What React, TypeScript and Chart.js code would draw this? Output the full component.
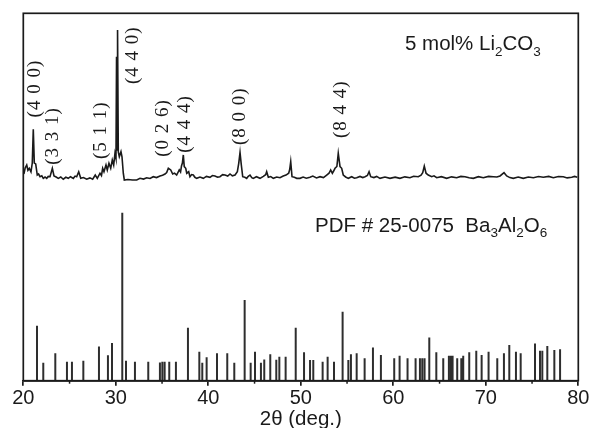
import React, { useEffect, useRef } from 'react';
import { Chart, registerables } from 'chart.js';

Chart.register(...registerables);

// Measured XRD pattern (2θ in degrees, relative intensity, 100 = strongest)
const TWO_THETA = [
  20.0, 20.08, 20.2, 20.37, 20.5, 20.65, 20.83, 20.97, 21.08, 21.19, 21.34, 21.51, 21.65, 21.81, 22.0, 22.16, 22.35, 22.53,
  22.7, 22.89, 23.14, 23.32, 23.55, 23.78, 24.05, 24.32, 24.6, 24.86, 25.1, 25.41, 25.6, 25.77, 25.99, 26.21, 26.5, 26.85,
  27.2, 27.5, 27.78, 28.0, 28.29, 28.45, 28.58, 28.72, 28.94, 29.08, 29.26, 29.45, 29.62, 29.77, 29.91, 30.02, 30.08, 30.13,
  30.19, 30.27, 30.38, 30.56, 30.67, 30.81, 30.92, 31.3, 31.8, 32.26, 32.62, 33.0, 33.34, 33.7, 34.05, 34.4, 34.78, 35.05,
  35.32, 35.5, 35.68, 35.94, 36.15, 36.35, 36.58, 36.86, 37.0, 37.1, 37.2, 37.3, 37.4, 37.56, 37.67, 37.88, 38.02, 38.2,
  38.38, 38.55, 38.75, 39.1, 39.46, 39.8, 40.18, 40.45, 40.72, 41.0, 41.26, 41.55, 41.81, 42.1, 42.35, 42.6, 42.89, 43.14,
  43.29, 43.43, 43.57, 43.72, 43.95, 44.15, 44.32, 44.51, 44.7, 44.86, 45.2, 45.59, 45.95, 46.2, 46.31, 46.49, 46.75, 47.03,
  47.4, 47.75, 48.1, 48.4, 48.69, 48.8, 48.91, 49.05, 49.3, 49.56, 49.91, 50.25, 50.6, 50.99, 51.3, 51.7, 52.08, 52.45,
  52.8, 53.05, 53.23, 53.41, 53.55, 53.7, 53.9, 54.05, 54.24, 54.42, 54.59, 54.85, 55.14, 55.5, 55.8, 56.04, 56.4, 56.7,
  56.94, 57.2, 57.38, 57.56, 57.9, 58.2, 58.56, 59.1, 59.64, 60.2, 60.72, 61.25, 61.8, 62.2, 62.7, 63.0, 63.18, 63.35,
  63.54, 63.78, 64.15, 64.4, 64.69, 65.2, 65.77, 66.3, 66.85, 67.3, 67.75, 68.2, 68.65, 69.2, 69.73, 70.3, 70.81, 71.2,
  71.54, 71.97, 72.26, 72.6, 72.97, 73.5, 74.05, 74.6, 75.14, 75.7, 76.22, 76.8, 77.3, 77.85, 78.38, 78.8, 79.29, 79.6, 79.89,
];
const INTENSITY = [
  4.0, 4.5, 8.0, 10.0, 6.5, 7.8, 5.5, 11.3, 33.8, 11.3, 10.7, 3.3, 4.0, 2.2, 2.8, 1.1, 2.0, 1.1,
  2.4, 2.2, 7.8, 2.7, 2.0, 1.1, 2.0, 0.5, 1.8, 1.1, 2.2, 1.1, 2.6, 2.2, 5.5, 1.1, 1.6, 0.5,
  1.4, 0.5, 3.3, 1.1, 4.5, 3.0, 7.8, 5.5, 10.0, 6.7, 11.1, 7.8, 13.3, 10.0, 17.8, 14.5, 82.2, 20.0,
  100.0, 18.7, 15.5, 18.9, 15.5, 4.5, 0.0, 0.3, 0.0, 0.0, 1.1, 0.6, 1.5, 1.0, 2.2, 1.6, 2.7, 3.2,
  4.0, 5.0, 7.8, 6.7, 4.0, 4.6, 3.3, 6.7, 5.3, 9.3, 11.3, 16.7, 8.9, 7.8, 4.5, 5.5, 2.2, 3.6,
  3.3, 1.8, 1.1, 2.0, 1.1, 2.4, 1.8, 3.0, 2.7, 1.9, 2.2, 3.6, 3.3, 2.6, 4.0, 2.8, 3.3, 5.5,
  11.1, 18.3, 10.0, 2.2, 1.8, 1.1, 2.5, 3.3, 1.6, 1.1, 2.2, 1.1, 2.4, 3.5, 5.5, 1.8, 2.3, 1.1,
  2.0, 1.5, 2.6, 3.3, 4.5, 7.0, 12.2, 2.2, 1.8, 1.1, 1.1, 2.0, 1.2, 1.8, 2.6, 1.4, 2.2, 1.6,
  3.3, 4.5, 6.7, 4.5, 6.0, 7.8, 9.0, 17.8, 8.9, 7.8, 3.3, 2.0, 1.1, 2.2, 1.2, 1.5, 2.4, 1.6,
  2.2, 3.0, 5.5, 2.2, 1.6, 2.4, 1.1, 2.0, 1.1, 1.9, 1.1, 2.1, 1.5, 2.5, 2.2, 3.2, 4.9, 9.3,
  4.5, 3.3, 2.2, 2.8, 1.5, 2.2, 1.1, 2.1, 1.5, 2.4, 2.2, 1.5, 1.1, 2.2, 1.5, 2.4, 2.2, 2.0,
  2.7, 4.9, 2.7, 1.6, 1.1, 2.0, 1.1, 2.0, 1.5, 2.3, 1.8, 2.4, 1.5, 2.3, 2.2, 1.4, 1.8, 2.4, 1.8,
];

// Reference pattern PDF # 25-0075 (2θ, relative intensity)
const PDF_POS = [
  21.48, 22.16, 23.46, 24.72, 25.26, 26.49, 28.18, 29.15, 29.59, 30.7, 31.1, 32.07, 33.51, 34.77, 35.03, 35.28, 35.78,
  36.5, 37.8, 39.03, 39.35, 39.82, 40.94, 42.05, 42.81, 43.93, 44.58, 45.05, 45.69, 46.05, 46.7, 47.35, 47.68, 48.36,
  49.45, 50.35, 51.0, 51.35, 52.36, 52.9, 53.59, 54.52, 55.14, 55.42, 56.04, 56.9, 57.8, 58.66, 60.1, 60.68, 61.54,
  62.41, 62.88, 63.13, 63.38, 63.89, 64.65, 65.4, 66.01, 66.23, 66.41, 66.91, 67.35, 67.56, 68.21, 68.97, 69.55, 70.3,
  71.24, 71.96, 72.54, 73.26, 73.77, 75.32, 75.86, 76.11, 76.65, 77.41, 78.03,
];
const PDF_INT = [
  32.7, 10.7, 16.3, 11.3, 11.3, 11.9, 20.4, 15.1, 22.4, 100, 11.9, 11.3, 11.3, 10.9, 11.3, 11.3, 11.3,
  11.3, 31.5, 17.3, 10.7, 13.9, 16.3, 16.3, 10.7, 48.0, 10.7, 17.3, 10.7, 12.7, 15.7, 12.5, 14.3, 14.3,
  31.5, 16.9, 12.3, 12.3, 11.3, 14.3, 11.3, 41.1, 12.3, 15.7, 16.3, 13.3, 19.8, 15.3, 13.3, 14.9, 13.3,
  13.3, 13.3, 13.3, 13.3, 25.8, 16.9, 13.3, 14.9, 14.9, 14.9, 13.3, 13.3, 14.9, 16.9, 17.9, 15.3, 17.3,
  13.3, 16.3, 21.2, 17.3, 16.3, 22.2, 17.9, 17.9, 20.6, 18.3, 18.7,
];

// Miller-index annotations: label, 2θ position, label centre height (chart units)
const HKL_LABELS = ['(4 0 0)', '(3 3 1)', '(5 1 1)', '(4 4 0)', '(0 2 6)', '(4 4 4)', '(8 0 0)', '(8 4 4)'];
const HKL_POS = [21.3, 23.25, 28.35, 31.9, 35.15, 37.5, 43.45, 54.3];
const HKL_Y = [79.5, 66.6, 68.2, 88.6, 68.8, 69.9, 72.0, 73.9];

const X_TICKS = [20, 30, 40, 50, 60, 70, 80];
const X_MINOR = [25, 35, 45, 55, 65, 75];

const SAMPLE_LABEL = [{ t: '5 mol% Li' }, { t: '2', sub: true }, { t: 'CO' }, { t: '3', sub: true }];
const PDF_LABEL = [
  { t: 'PDF # 25-0075  Ba' }, { t: '3', sub: true }, { t: 'Al' }, { t: '2', sub: true }, { t: 'O' }, { t: '6', sub: true },
];

// vertical placement of the two panels in chart units (0..100)
const SPEC_OFFSET = 54.63;
const SPEC_SCALE = 0.408;
const PDF_SCALE = 0.457;

const INK = '#1a1a1a';
const SANS = '"Liberation Sans", Arial, sans-serif';

function drawRich(ctx: CanvasRenderingContext2D, parts: { t: string; sub?: boolean }[], x: number, y: number) {
  let cx = x;
  ctx.textAlign = 'left';
  ctx.textBaseline = 'alphabetic';
  for (const p of parts) {
    ctx.font = p.sub ? `13.5px ${SANS}` : `20.5px ${SANS}`;
    ctx.fillText(p.t, cx, p.sub ? y + 5.5 : y);
    cx += ctx.measureText(p.t).width;
  }
}

const overlay = {
  id: 'overlay',
  afterDatasetsDraw(chart: any) {
    const { ctx, chartArea: a, scales } = chart;
    const x = scales.x;
    const y = scales.y;
    ctx.save();
    ctx.strokeStyle = INK;
    ctx.lineWidth = 1.7;
    ctx.strokeRect(a.left, a.top, a.right - a.left, a.bottom - a.top);
    ctx.lineWidth = 1.5;
    for (const v of X_MINOR) {
      const px = x.getPixelForValue(v);
      ctx.beginPath();
      ctx.moveTo(px, a.bottom);
      ctx.lineTo(px, a.bottom + 3);
      ctx.stroke();
    }
    ctx.fillStyle = INK;
    ctx.font = '19px "Liberation Serif", "Times New Roman", serif';
    ctx.textAlign = 'center';
    ctx.textBaseline = 'middle';
    HKL_LABELS.forEach((t, i) => {
      ctx.save();
      ctx.translate(x.getPixelForValue(HKL_POS[i]), y.getPixelForValue(HKL_Y[i]));
      ctx.rotate(-Math.PI / 2);
      (ctx as any).letterSpacing = '1px';
      ctx.fillText(t, 0, 0);
      ctx.restore();
    });
    drawRich(ctx, SAMPLE_LABEL, x.getPixelForValue(61.26), y.getPixelForValue(90.0));
    drawRich(ctx, PDF_LABEL, x.getPixelForValue(51.53), y.getPixelForValue(40.6));
    ctx.restore();
  },
};

export default function App() {
  const ref = useRef<HTMLCanvasElement | null>(null);
  useEffect(() => {
    document.body.style.margin = '0';
    const spectrum = TWO_THETA.map((t, i) => ({ x: t, y: SPEC_OFFSET + INTENSITY[i] * SPEC_SCALE }));
    const sticks: { x: number; y: number | null }[] = [];
    PDF_POS.forEach((p, i) => {
      sticks.push({ x: p, y: 0 });
      sticks.push({ x: p, y: PDF_INT[i] * PDF_SCALE });
      sticks.push({ x: p, y: null });
    });
    const chart = new Chart(ref.current as HTMLCanvasElement, {
      type: 'line',
      data: {
        datasets: [
          {
            label: '5 mol% Li2CO3',
            data: spectrum,
            borderColor: INK,
            borderWidth: 1.6,
            pointRadius: 0,
            tension: 0,
          },
          {
            label: 'PDF # 25-0075',
            data: sticks as any,
            borderColor: '#2e2e2e',
            borderWidth: 2,
            pointRadius: 0,
            spanGaps: false,
            tension: 0,
          },
        ],
      },
      options: {
        animation: false,
        responsive: true,
        maintainAspectRatio: false,
        layout: { padding: { left: 23.3, right: 10.7, top: 13.3, bottom: 0 } },
        plugins: { legend: { display: false }, tooltip: { enabled: false } },
        scales: {
          x: {
            type: 'linear',
            min: 20,
            max: 80,
            afterBuildTicks: (axis: any) => {
              axis.ticks = X_TICKS.map((v) => ({ value: v }));
            },
            afterFit: (axis: any) => {
              axis.height = 47.3;
              axis.paddingLeft = 0;
              axis.paddingRight = 0;
            },
            grid: { drawOnChartArea: false, drawTicks: true, tickLength: 5, color: INK, lineWidth: 1.7 },
            border: { display: true, color: INK, width: 1.7 },
            ticks: {
              font: { family: SANS, size: 20, lineHeight: 1.1 },
              color: INK,
              padding: 2,
              maxRotation: 0,
              autoSkip: false,
            },
            title: {
              display: true,
              text: '2θ (deg.)',
              font: { family: SANS, size: 20.5, lineHeight: 1.1 },
              color: INK,
              padding: { top: 0, bottom: -3 },
            },
          },
          y: { display: false, min: 0, max: 100 },
        },
      },
      plugins: [overlay],
    });
    return () => chart.destroy();
  }, []);
  return (
    <div style={{ position: 'fixed', left: 0, top: 0, width: 589, height: 428, background: '#fff' }}>
      <canvas ref={ref} />
    </div>
  );
}
